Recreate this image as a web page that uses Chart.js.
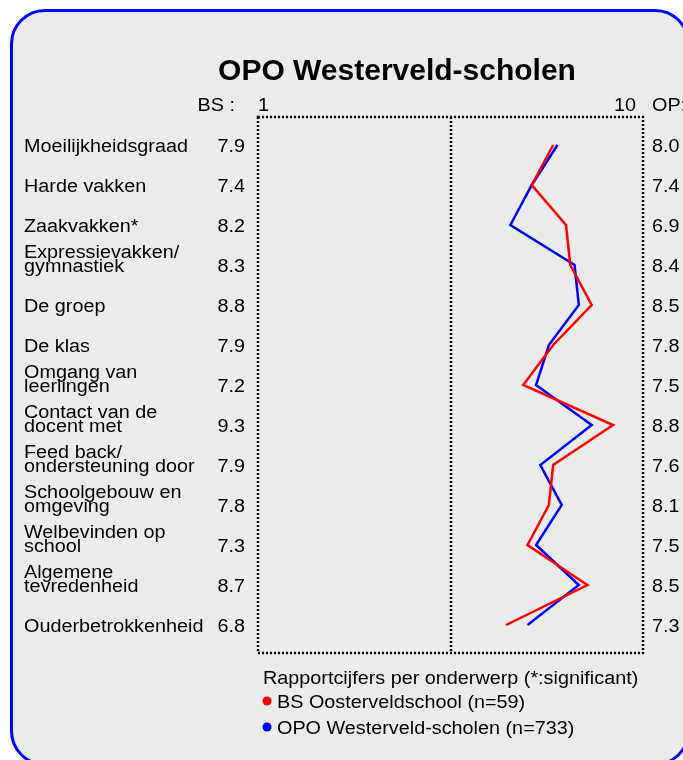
<!DOCTYPE html>
<html>
<head>
<meta charset="utf-8">
<script src="https://cdn.jsdelivr.net/npm/chart.js@4/dist/chart.umd.min.js"></script>
<style>
  html, body { margin: 0; padding: 0; background: #fff; overflow: hidden; }
  .panel {
    position: absolute; left: 10px; top: 9px; width: 680px; height: 757px;
    box-sizing: border-box; border: 3px solid #0000ff; border-radius: 35px;
    background: #ebebeb;
  }
  #wrap { position: absolute; left: 0; top: 0; width: 683px; height: 760px; }
</style>
</head>
<body>
<div class="panel"></div>
<div id="wrap"><canvas id="chart" width="683" height="760"></canvas></div>
<script>
'use strict';

// rubrieken (top -> bottom)
const categories = [
  'Moeilijkheidsgraad',
  'Harde vakken',
  'Zaakvakken*',
  'Expressievakken/\ngymnastiek',
  'De groep',
  'De klas',
  'Omgang van\nleerlingen',
  'Contact van de\ndocent met',
  'Feed back/\nondersteuning door',
  'Schoolgebouw en\nomgeving',
  'Welbevinden op\nschool',
  'Algemene\ntevredenheid',
  'Ouderbetrokkenheid'
];
const bsScores  = [7.9, 7.4, 8.2, 8.3, 8.8, 7.9, 7.2, 9.3, 7.9, 7.8, 7.3, 8.7, 6.8];
const opoScores = [8.0, 7.4, 6.9, 8.4, 8.5, 7.8, 7.5, 8.8, 7.6, 8.1, 7.5, 8.5, 7.3];
const seriesNames = ['BS Oosterveldschool (n=59)', 'OPO Westerveld-scholen (n=733)'];
const seriesColors = ['#ff0000', '#0000ff'];
const scaleMin = 1, scaleMax = 10;
const chartTitle = 'OPO Westerveld-scholen';
const subTitle = 'Rapportcijfers per onderwerp (*:significant)';

const FONT = '"Liberation Sans", Arial, sans-serif';

function txt(ctx, s, x, y, align, size, bold, stretch) {
  ctx.save();
  ctx.translate(x, y);
  ctx.scale(stretch || 1, 1);
  ctx.font = (bold ? 'bold ' : '') + size + 'px ' + FONT;
  ctx.textAlign = align;
  ctx.textBaseline = 'alphabetic';
  ctx.fillStyle = '#000';
  ctx.fillText(s, 0, 0);
  ctx.restore();
}

const decor = {
  id: 'decor',
  beforeDatasetsDraw(chart) {
    const ctx = chart.ctx, x = chart.scales.x;
    const ca = chart.chartArea;
    const l = x.getPixelForValue(scaleMin), r = x.getPixelForValue(scaleMax);
    const m = Math.round(x.getPixelForValue((scaleMin + scaleMax) / 2));
    ctx.save();
    ctx.strokeStyle = '#000';
    ctx.lineWidth = 2.5;
    ctx.setLineDash([2, 2]);
    ctx.beginPath();
    ctx.rect(l, ca.top, r - l, ca.bottom - ca.top);
    ctx.moveTo(m, ca.top);
    ctx.lineTo(m, ca.bottom);
    ctx.stroke();
    ctx.restore();
  },
  afterDraw(chart) {
    const ctx = chart.ctx, x = chart.scales.x, y = chart.scales.y;
    const ca = chart.chartArea;
    const S = 1.1;
    const l = x.getPixelForValue(scaleMin), r = x.getPixelForValue(scaleMax);

    txt(ctx, chartTitle, 397, 80, 'center', 30, true, 1);

    const top = ca.top - 6;
    txt(ctx, 'BS :', 235, top, 'right', 18, false, S);
    txt(ctx, String(scaleMin), l, top, 'left', 18, false, S);
    txt(ctx, String(scaleMax), r - 7, top, 'right', 18, false, S);
    txt(ctx, 'OP:', r + 9, top, 'left', 18, false, S);

    categories.forEach((c, i) => {
      const base = y.getPixelForValue(i) + 7;
      const lines = c.split('\n');
      lines.forEach((ln, k) => {
        txt(ctx, ln, 24, base - (lines.length - 1 - k) * 14, 'left', 18, false, S);
      });
      txt(ctx, bsScores[i].toFixed(1), 245, base, 'right', 18, false, S);
      txt(ctx, opoScores[i].toFixed(1), r + 9, base, 'left', 18, false, S);
    });

    // legenda
    const lx = l + 5;
    txt(ctx, subTitle, lx, ca.bottom + 31, 'left', 18, false, S);
    seriesNames.forEach((n, i) => {
      const by = ca.bottom + 55 + i * 26;
      ctx.save();
      ctx.fillStyle = seriesColors[i];
      ctx.beginPath();
      ctx.arc(lx + 4, by - 7, 4.5, 0, Math.PI * 2);
      ctx.fill();
      ctx.restore();
      txt(ctx, n, lx + 14, by, 'left', 18, false, S);
    });
  }
};

new Chart(document.getElementById('chart').getContext('2d'), {
  type: 'line',
  data: {
    datasets: [
      {
        label: seriesNames[0],
        data: bsScores.map((v, i) => ({ x: v, y: i })),
        borderColor: seriesColors[0],
        borderWidth: 2.5,
        pointRadius: 0,
        tension: 0,
        fill: false
      },
      {
        label: seriesNames[1],
        data: opoScores.map((v, i) => ({ x: v, y: i })),
        borderColor: seriesColors[1],
        borderWidth: 2.5,
        pointRadius: 0,
        tension: 0,
        fill: false
      }
    ]
  },
  options: {
    responsive: false,
    animation: false,
    layout: { padding: { left: 258, right: 40, top: 117, bottom: 107 } },
    scales: {
      x: { type: 'linear', min: scaleMin, max: scaleMax, display: false },
      y: { type: 'linear', min: -0.7, max: categories.length - 0.3, reverse: true, display: false }
    },
    plugins: {
      legend: { display: false },
      title: { display: false },
      tooltip: { enabled: false }
    }
  },
  plugins: [decor]
});
</script>
</body>
</html>
